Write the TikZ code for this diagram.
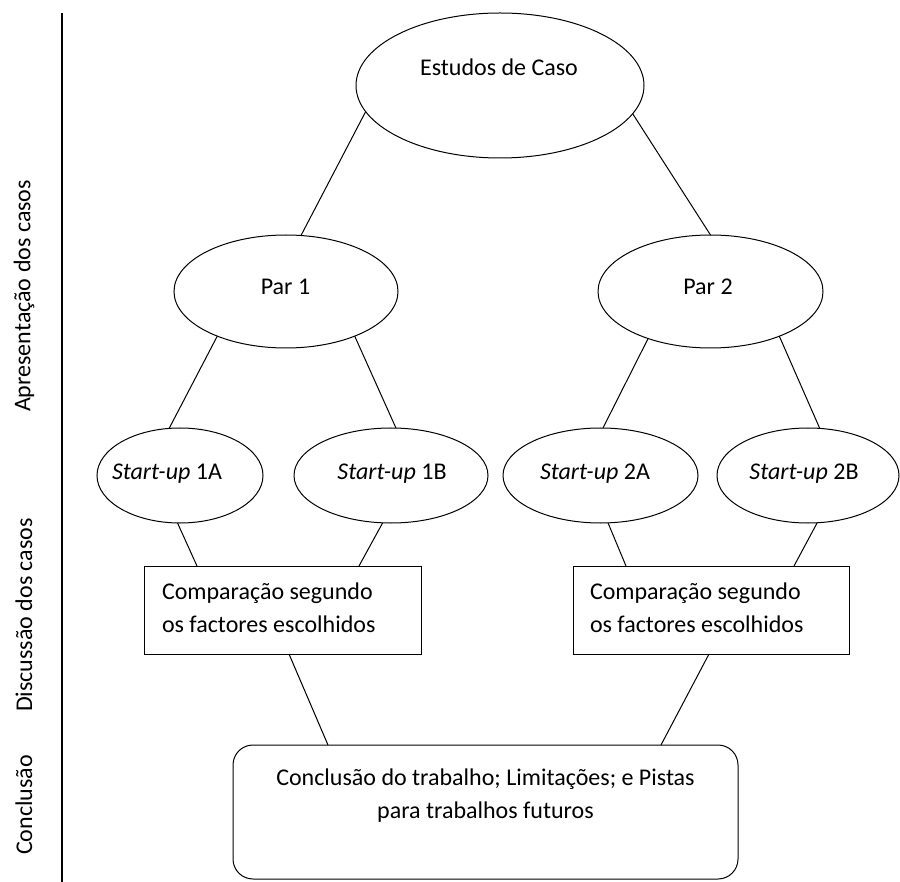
\documentclass[tikz,border=0pt]{standalone}
\usepackage{fontspec}
\setmainfont{Carlito}
\usetikzlibrary{shapes.geometric,calc}
\begin{document}
\begin{tikzpicture}[x=1pt,y=-1pt,
  every node/.style={inner sep=0pt,outer sep=0pt},
  oval/.style={ellipse,draw,line width=1pt},
  box/.style={rectangle,draw,line width=1pt},
  rbox/.style={rectangle,draw,line width=1pt,rounded corners=20pt},
  txt/.style={anchor=base,font=\fontsize{24}{33}\selectfont},
  ltxt/.style={anchor=base west,font=\fontsize{24}{33}\selectfont},
  side/.style={rotate=90,font=\fontsize{24}{33}\selectfont},
  link/.style={line width=1pt}]
\useasboundingbox (0,0) rectangle (900,882);
% left axis
\coordinate (axtop) at (62,13);
\coordinate (axbot) at (62,882);
\draw[line width=1.2pt] (axtop) -- (axbot);
\node[side] (lab1) at (24,296) {Apresentação dos casos};
\node[side] (lab2) at (24,615) {Discussão dos casos};
\node[side] (lab3) at (24,805) {Conclusão};
% shapes
\node[oval,minimum width=288pt,minimum height=145pt] (es) at (500,85.5) {};
\node[oval,minimum width=224pt,minimum height=113pt] (p1) at (286,291.5) {};
\node[oval,minimum width=225pt,minimum height=113pt] (p2) at (710.5,291.5) {};
\node[oval,minimum width=166pt,minimum height=95pt] (sa) at (180,475.5) {};
\node[oval,minimum width=194pt,minimum height=95pt] (sb) at (391,475.5) {};
\node[oval,minimum width=195pt,minimum height=95pt] (sc) at (600.5,475.5) {};
\node[oval,minimum width=182pt,minimum height=95pt] (sd) at (808,475.5) {};
\node[box,minimum width=277pt,minimum height=88pt] (b1) at (282.5,610) {};
\node[box,minimum width=276pt,minimum height=88pt] (b2) at (711,610) {};
\node[rbox,minimum width=505pt,minimum height=134pt] (bt) at (485.5,812) {};
% texts
\node[txt] (tes) at (499,76) {Estudos de Caso};
\node[txt] (tp1) at (285.5,295) {Par 1};
\node[txt] (tp2) at (708,295) {Par 2};
\node[txt] (tsa) at (167,479) {\textit{Start-up} 1A};
\node[txt] (tsb) at (392,479) {\textit{Start-up} 1B};
\node[txt] (tsc) at (595,479) {\textit{Start-up} 2A};
\node[txt] (tsd) at (804,479) {\textit{Start-up} 2B};
\node[ltxt] (tb1a) at (162,599) {Comparação segundo};
\node[ltxt] (tb1b) at (162,632) {os factores escolhidos};
\node[ltxt] (tb2a) at (590,599) {Comparação segundo};
\node[ltxt] (tb2b) at (590,632) {os factores escolhidos};
\node[txt] (tbt1) at (485.5,785) {Conclusão do trabalho; Limitações; e Pistas};
\node[txt] (tbt2) at (485.5,818) {para trabalhos futuros};
% connectors
\draw[link] (es.191.4) -- (p1.75.1);
\draw[link] (es.348.2) -- (p2.90);
\draw[link] (p1.213.2) -- (sa.103);
\draw[link] (p1.327.6) -- (sb.84);
\draw[link] (p2.217.7) -- (sc.87);
\draw[link] (p2.327.2) -- (sd.76);
\draw[link] (sa.267.6) -- ($(b1.north west)+(53,0)$);
\draw[link] (sb.260.4) -- ($(b1.north west)+(215,0)$);
\draw[link] (sc.279) -- ($(b2.north west)+(53,0)$);
\draw[link] (sd.281) -- ($(b2.north west)+(221,0)$);
\draw[link] ($(b1.south west)+(145,0)$) -- ($(bt.north west)+(95,0)$);
\draw[link] ($(b2.south west)+(136,0)$) -- ($(bt.north west)+(428,0)$);
\end{tikzpicture}
\end{document}
